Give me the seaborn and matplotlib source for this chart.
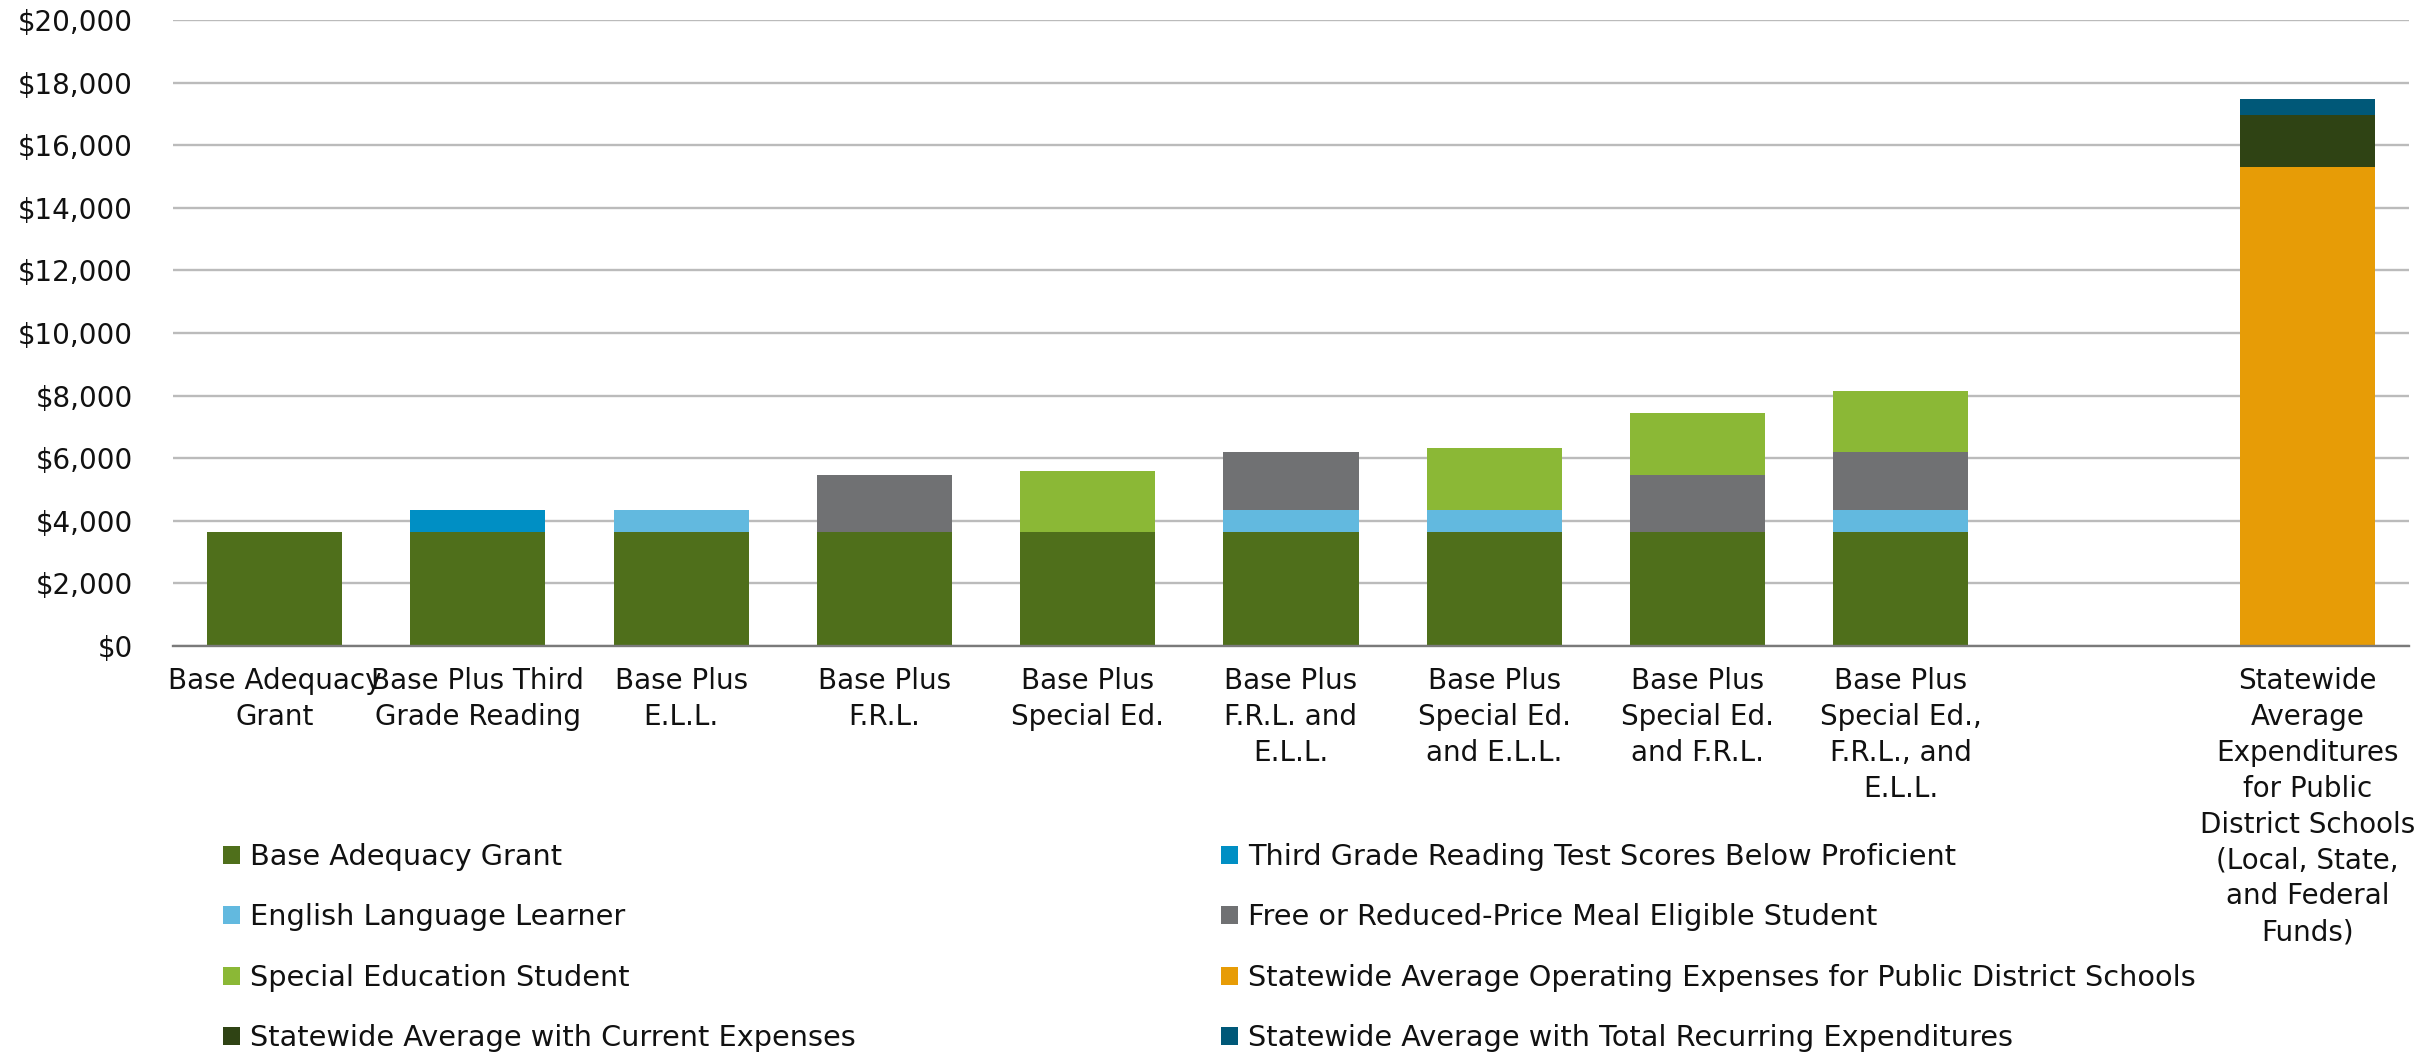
import matplotlib
matplotlib.use("Agg")
import matplotlib.pyplot as plt
from matplotlib.patches import Patch
from matplotlib.ticker import FuncFormatter
import numpy as np
import seaborn as sns

sns.set_theme(style="white")
plt.rcParams["font.family"] = ["DejaVu Sans"]

categories = [
    "Base Adequacy\nGrant",
    "Base Plus Third\nGrade Reading",
    "Base Plus\nE.L.L.",
    "Base Plus\nF.R.L.",
    "Base Plus\nSpecial Ed.",
    "Base Plus\nF.R.L. and\nE.L.L.",
    "Base Plus\nSpecial Ed.\nand E.L.L.",
    "Base Plus\nSpecial Ed.\nand F.R.L.",
    "Base Plus\nSpecial Ed.,\nF.R.L., and\nE.L.L.",
    " ",
    "Statewide\nAverage\nExpenditures\nfor Public\nDistrict Schools\n(Local, State,\nand Federal\nFunds)",
]

# per-category amounts for each component, in stacking order (bottom -> top)
base_grant = [3635, 3635, 3635, 3635, 3635, 3635, 3635, 3635, 3635, 0, 0]
third_grade = [0, 720, 0, 0, 0, 0, 0, 0, 0, 0, 0]
ell = [0, 0, 720, 0, 0, 720, 720, 0, 720, 0, 0]
frl = [0, 0, 0, 1830, 0, 1830, 0, 1830, 1830, 0, 0]
special_ed = [0, 0, 0, 0, 1970, 0, 1970, 1970, 1970, 0, 0]
operating = [0, 0, 0, 0, 0, 0, 0, 0, 0, 0, 15290]
current = [0, 0, 0, 0, 0, 0, 0, 0, 0, 0, 1690]
total_recurring = [0, 0, 0, 0, 0, 0, 0, 0, 0, 0, 510]

series_names = [
    "Base Adequacy Grant",
    "Third Grade Reading Test Scores Below Proficient",
    "English Language Learner",
    "Free or Reduced-Price Meal Eligible Student",
    "Special Education Student",
    "Statewide Average Operating Expenses for Public District Schools",
    "Statewide Average with Current Expenses",
    "Statewide Average with Total Recurring Expenditures",
]
series_values = [base_grant, third_grade, ell, frl, special_ed,
                 operating, current, total_recurring]
colors = ["#4F6F1B", "#008FC4", "#62B9DF", "#707173",
          "#8BB836", "#E79C06", "#2F4314", "#005878"]

text_color = "#111111"

fig = plt.figure(figsize=(24.17, 10.55), dpi=100)
ax = fig.add_axes([173 / 2417, 1 - 646 / 1055, (2409 - 173) / 2417, (646 - 20) / 1055])

vals = np.array(series_values, dtype=float)
cum = np.cumsum(vals, axis=0)

# draw the cumulative tops from the top layer down so lower layers cover them
for i in range(len(series_names) - 1, -1, -1):
    heights = np.where(vals[i] > 0, cum[i], 0)
    sns.barplot(x=categories, y=heights, color=colors[i], saturation=1,
                width=0.665, linewidth=0, errorbar=None, ax=ax)

ax.set_xlim(-0.5, 10.5)
ax.set_ylim(0, 20000)
ax.set_yticks(range(0, 20001, 2000))
ax.yaxis.set_major_formatter(FuncFormatter(lambda v, p: "${:,.0f}".format(v)))
ax.yaxis.grid(True, color="#BBBBBB", linewidth=1.7)
ax.set_axisbelow(True)
for s in ["top", "right", "left"]:
    ax.spines[s].set_visible(False)
ax.spines["bottom"].set_color("#7A7A7A")
ax.spines["bottom"].set_linewidth(1.7)
ax.tick_params(axis="y", length=0, pad=29, labelsize=20, labelcolor=text_color)
ax.tick_params(axis="x", length=0, pad=15, labelsize=20, labelcolor=text_color)
for lbl in ax.get_xticklabels():
    lbl.set_linespacing(1.36)
ax.set_xlabel("")
ax.set_ylabel("")

handles = [Patch(facecolor=c, edgecolor="none") for c in colors]
left_idx = [0, 2, 4, 6]
right_idx = [1, 3, 5, 7]
legend_kw = dict(loc="upper left", frameon=False, fontsize=20.7,
                 handlelength=0.58, handleheight=0.58, handletextpad=0.35,
                 labelspacing=1.13, borderpad=0, borderaxespad=0,
                 labelcolor=text_color)
fig.legend([handles[i] for i in left_idx], [series_names[i] for i in left_idx],
           bbox_to_anchor=(223 / 2417, 1 - 843 / 1055), **legend_kw)
fig.legend([handles[i] for i in right_idx], [series_names[i] for i in right_idx],
           bbox_to_anchor=(1221 / 2417, 1 - 843 / 1055), **legend_kw)

fig.savefig("out.png", dpi=100, facecolor="white")
